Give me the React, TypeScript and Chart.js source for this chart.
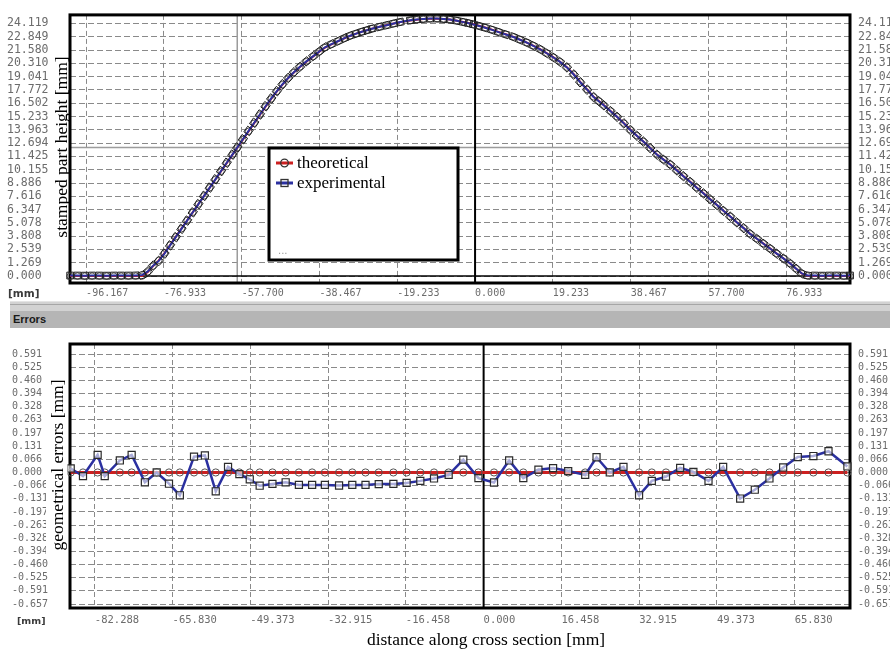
import React, { useEffect, useRef } from 'react';
import { Chart, registerables } from 'chart.js';

Chart.register(...registerables);

// ---------------- upper chart: stamped part profile ----------------
const profileX = [
  -100.1, -98.3, -96.5, -94.7, -92.9, -91.1, -89.3, -87.5, -85.7, -83.9, -82.3,
  -80.9, -79.6, -78.2, -76.8, -75.4, -74.0, -72.6, -71.2, -69.8, -68.4, -67.0, -65.6, -64.2, -62.8, -61.4, -60.0,
  -58.8, -57.4, -56.0, -54.6, -53.2, -51.8, -50.4, -49.0, -47.6, -46.2, -44.8, -43.3, -41.7, -40.0, -38.5, -37.1,
  -35.5, -33.8, -32.3, -30.9, -29.4, -28.0, -26.7, -25.5, -23.6, -21.8, -20.1, -18.5, -16.0, -14.4, -12.8, -11.1,
  -9.4, -7.8, -6.2, -4.5, -2.9, -1.6, -0.4, 1.0, 2.5, 4.2, 5.8, 7.6, 9.5, 11.1, 12.8, 14.4, 16.1, 17.7, 19.4,
  21.0, 22.7, 24.4, 26.0, 27.7, 29.3, 30.6, 31.8, 33.5, 35.1, 36.8, 38.4, 40.0, 41.6, 43.3, 45.0, 46.6, 48.3, 49.9,
  51.5, 53.2, 54.8, 56.5, 58.1, 59.8, 61.4, 63.1, 64.7, 66.4, 68.0, 69.7, 71.3, 73.0, 74.6, 76.3, 77.9, 79.4, 80.8, 82.2,
  84.0, 85.8, 87.6, 89.4, 91.2, 92.7,
];
const profileTheoretical = [
  0, 0, 0, 0, 0, 0, 0, 0, 0, 0, 0,
  0.40, 0.95, 1.50, 2.20, 2.97, 3.75, 4.53, 5.31, 6.09, 6.88, 7.66, 8.44, 9.22, 10.01, 10.79, 11.57,
  12.25, 13.03, 13.82, 14.60, 15.39, 16.17, 16.92, 17.63, 18.29, 18.90, 19.44, 19.97, 20.48, 20.98, 21.43, 21.82,
  22.13, 22.44, 22.71, 22.94, 23.15, 23.34, 23.49, 23.63, 23.81, 23.97, 24.12, 24.25, 24.40, 24.48, 24.54, 24.57,
  24.58, 24.55, 24.49, 24.39, 24.27, 24.16, 24.04, 23.90, 23.73, 23.53, 23.32, 23.09, 22.84, 22.58, 22.30, 22.00, 21.67, 21.30, 20.89,
  20.47, 19.95, 19.27, 18.54, 17.82, 17.12, 16.71, 16.33, 15.76, 15.22, 14.60, 13.97, 13.41, 12.86, 12.24, 11.60, 11.13, 10.65, 10.10,
  9.55, 9.00, 8.45, 7.90, 7.35, 6.79, 6.24, 5.69, 5.14, 4.59, 4.04, 3.57, 3.10, 2.62, 2.15, 1.68, 1.21, 0.71, 0.24, 0.02,
  0, 0, 0, 0, 0, 0,
];
const profileExperimental = [
  0.05, 0.05, 0.04, 0.05, 0.05, 0.04, 0.05, 0.05, 0.05, 0.06, 0.10,
  0.45, 1.00, 1.45, 2.15, 2.93, 3.72, 4.51, 5.30, 6.09, 6.87, 7.66, 8.45, 9.24, 10.03, 10.82, 11.60,
  12.28, 13.07, 13.86, 14.64, 15.43, 16.22, 16.96, 17.66, 18.32, 18.92, 19.46, 19.98, 20.50, 21.00, 21.45, 21.85,
  22.15, 22.45, 22.72, 22.95, 23.15, 23.33, 23.48, 23.62, 23.80, 23.96, 24.12, 24.26, 24.42, 24.50, 24.56, 24.59,
  24.59, 24.55, 24.49, 24.38, 24.25, 24.14, 24.02, 23.88, 23.71, 23.51, 23.30, 23.07, 22.83, 22.57, 22.29, 21.99, 21.66, 21.28, 20.87,
  20.45, 19.93, 19.25, 18.51, 17.80, 17.10, 16.70, 16.31, 15.75, 15.21, 14.58, 13.95, 13.40, 12.85, 12.22, 11.59, 11.12, 10.64, 10.09,
  9.54, 8.99, 8.44, 7.89, 7.34, 6.78, 6.23, 5.68, 5.13, 4.58, 4.03, 3.56, 3.09, 2.61, 2.14, 1.67, 1.20, 0.70, 0.25, 0.06,
  0.05, 0.04, 0.05, 0.05, 0.04, 0.05,
];
const profileXTicks = [-96.167, -76.933, -57.7, -38.467, -19.233, 0, 19.233, 38.467, 57.7, 76.933];
const profileYTicks = [
  0, 1.269, 2.539, 3.808, 5.078, 6.347, 7.616, 8.886, 10.155, 11.425,
  12.694, 13.963, 15.233, 16.502, 17.772, 19.041, 20.31, 21.58, 22.849, 24.119,
];
const profileXRange = [-100.15, 92.7];
const profileYRange = [-0.66, 24.94];
const cursorX = -58.8;
const cursorY = 12.28;

// ---------------- lower chart: geometrical errors ----------------
const errorX = [
  -87.4, -84.8, -81.7, -80.2, -77.0, -74.5, -71.7, -69.2, -66.6, -64.3, -61.3, -59.0, -56.7, -54.1, -51.7,
  -49.5, -47.4, -44.7, -41.9, -39.1, -36.3, -33.6, -30.6, -27.8, -25.0, -22.2, -19.1, -16.3, -13.4, -10.5,
  -7.4, -4.3, -1.1, 2.2, 5.4, 8.4, 11.6, 14.7, 17.9, 21.5, 23.9, 26.7, 29.6, 32.9, 35.6, 38.6, 41.6, 44.4,
  47.6, 50.7, 54.3, 57.4, 60.5, 63.4, 66.5, 69.8, 73.0, 77.0,
];
const errorTheoretical = [
  0, 0, 0, 0, 0, 0, 0, 0, 0, 0, 0, 0, 0, 0, 0,
  0, 0, 0, 0, 0, 0, 0, 0, 0, 0, 0, 0, 0, 0, 0,
  0, 0, 0, 0, 0, 0, 0, 0, 0, 0, 0, 0, 0, 0, 0, 0, 0, 0,
  0, 0, 0, 0, 0, 0, 0, 0, 0, 0,
];
const errorExperimental = [
  0.020, -0.018, 0.088, -0.018, 0.060, 0.088, -0.049, 0.000, -0.056, -0.114, 0.079, 0.085, -0.094, 0.028, -0.008,
  -0.034, -0.066, -0.057, -0.049, -0.062, -0.062, -0.062, -0.065, -0.062, -0.062, -0.058, -0.057, -0.052, -0.042, -0.030,
  -0.012, 0.064, -0.028, -0.050, 0.060, -0.028, 0.014, 0.022, 0.007, -0.012, 0.076, 0.000, 0.028, -0.114, -0.042, -0.021, 0.023, 0.003,
  -0.042, 0.028, -0.130, -0.086, -0.030, 0.025, 0.077, 0.082, 0.106, 0.030,
];
const errorXTicks = [-82.288, -65.83, -49.373, -32.915, -16.458, 0, 16.458, 32.915, 49.373, 65.83];
const errorYTicks = [
  -0.657, -0.591, -0.525, -0.46, -0.394, -0.328, -0.263, -0.197, -0.131, -0.066,
  0, 0.066, 0.131, 0.197, 0.263, 0.328, 0.394, 0.46, 0.525, 0.591,
];
const errorXRange = [-87.55, 77.55];
const errorYRange = [-0.6766, 0.6414];

const seriesNames = ['theoretical', 'experimental'];
const profileYTitle = 'stamped part height [mm]';
const errorYTitle = 'geometrical errors [mm]';
const errorXTitle = 'distance along cross section [mm]';
const unitLabel = '[mm]';
const panelTitle = 'Errors';

// ---------------- styles ----------------
const RED = '#cc2020';
const BLUE = '#2b30a0';
const GRID = '#8a8a8a';
const LABEL = '#6c6c6c';
const MONO = '"DejaVu Sans Mono", monospace';
const SERIF = '"Liberation Serif", "Times New Roman", serif';

function fmt(v: any) {
  return Number(v).toFixed(3);
}

function makeDeco(cfg: any) {
  return {
    id: 'deco',
    beforeDatasetsDraw(chart: any) {
      const { ctx, chartArea: a, scales } = chart;
      const xs = scales.x;
      const ys = scales.y;
      ctx.save();
      ctx.setLineDash([]);
      if (cfg.cursor) {
        ctx.strokeStyle = '#9c9c9c';
        ctx.lineWidth = 1.5;
        const cx = xs.getPixelForValue(cfg.cursor.x);
        const cy = ys.getPixelForValue(cfg.cursor.y);
        ctx.beginPath();
        ctx.moveTo(cx, a.top);
        ctx.lineTo(cx, a.bottom);
        ctx.moveTo(a.left, cy);
        ctx.lineTo(a.right, cy);
        ctx.stroke();
      }
      ctx.strokeStyle = '#000';
      if (cfg.zeroH) {
        const zy = ys.getPixelForValue(0);
        ctx.lineWidth = 1.5;
        ctx.beginPath();
        ctx.moveTo(a.left, zy);
        ctx.lineTo(a.right, zy);
        ctx.stroke();
      }
      const zx = xs.getPixelForValue(0);
      ctx.lineWidth = 2;
      ctx.beginPath();
      ctx.moveTo(zx, a.top);
      ctx.lineTo(zx, a.bottom);
      ctx.stroke();
      ctx.lineWidth = 3;
      ctx.strokeRect(a.left, a.top, a.right - a.left, a.bottom - a.top);
      ctx.restore();
    },
    afterDraw(chart: any) {
      const { ctx } = chart;
      ctx.save();
      ctx.setLineDash([]);
      if (cfg.mask) {
        ctx.fillStyle = '#fff';
        ctx.fillRect(cfg.mask.x, cfg.mask.y, cfg.mask.w, cfg.mask.h);
      }
      // y title
      ctx.save();
      ctx.translate(cfg.yTitle.x, cfg.yTitle.y);
      ctx.rotate(-Math.PI / 2);
      ctx.font = `17.5px ${SERIF}`;
      ctx.fillStyle = '#000';
      ctx.textAlign = 'center';
      ctx.textBaseline = 'middle';
      ctx.fillText(cfg.yTitle.text, 0, 0);
      ctx.restore();
      // x title
      if (cfg.xTitle) {
        ctx.font = `17.5px ${SERIF}`;
        ctx.fillStyle = '#000';
        ctx.textAlign = 'center';
        ctx.textBaseline = 'middle';
        ctx.fillText(cfg.xTitle.text, cfg.xTitle.x, cfg.xTitle.y);
      }
      // unit label
      ctx.font = `bold ${cfg.unit.size}px "DejaVu Sans", sans-serif`;
      ctx.fillStyle = '#3a3a3a';
      ctx.textAlign = 'left';
      ctx.textBaseline = 'middle';
      ctx.fillText(unitLabel, cfg.unit.x, cfg.unit.y);
      // legend
      if (cfg.legend) {
        const L = cfg.legend;
        ctx.fillStyle = '#fff';
        ctx.fillRect(L.x, L.y, L.w, L.h);
        ctx.lineWidth = 3;
        ctx.strokeStyle = '#000';
        ctx.strokeRect(L.x, L.y, L.w, L.h);
        L.items.forEach((it: any, i: number) => {
          const y = L.y + 15 + i * 20;
          ctx.strokeStyle = it.color;
          ctx.lineWidth = 3;
          ctx.beginPath();
          ctx.moveTo(L.x + 7, y);
          ctx.lineTo(L.x + 24, y);
          ctx.stroke();
          ctx.lineWidth = 1.3;
          ctx.strokeStyle = '#333';
          if (it.shape === 'circle') {
            ctx.beginPath();
            ctx.arc(L.x + 15.5, y, 3.8, 0, Math.PI * 2);
            ctx.stroke();
          } else {
            ctx.strokeRect(L.x + 12, y - 3.5, 7, 7);
          }
          ctx.fillStyle = '#000';
          ctx.font = `17px ${SERIF}`;
          ctx.textAlign = 'left';
          ctx.textBaseline = 'middle';
          ctx.fillText(it.label, L.x + 28, y + 1);
        });
        ctx.fillStyle = '#999';
        ctx.font = `10px "DejaVu Sans", sans-serif`;
        ctx.textAlign = 'left';
        ctx.fillText('...', L.x + 9, L.y + L.h - 9);
      }
      ctx.restore();
    },
  };
}

function buildScales(p: any) {
  return {
    x: {
      type: 'linear',
      position: 'bottom',
      min: p.xRange[0],
      max: p.xRange[1],
      afterBuildTicks: (s: any) => {
        s.ticks = p.xTicks.map((v: number) => ({ value: v }));
      },
      afterFit: (s: any) => {
        s.height = p.xHeight;
      },
      grid: { color: GRID, lineWidth: 1, drawTicks: false },
      border: { display: false, dash: [5, 3] },
      ticks: {
        autoSkip: false,
        maxRotation: 0,
        minRotation: 0,
        align: 'start',
        padding: p.xPad,
        color: LABEL,
        font: { family: MONO, size: p.xFont },
        callback: fmt,
      },
    },
    y: {
      type: 'linear',
      position: 'left',
      min: p.yRange[0],
      max: p.yRange[1],
      afterBuildTicks: (s: any) => {
        s.ticks = p.yTicks.map((v: number) => ({ value: v }));
      },
      afterFit: (s: any) => {
        s.width = p.yWidth;
      },
      grid: { color: GRID, lineWidth: 1, drawTicks: false },
      border: { display: false, dash: [6, 3] },
      ticks: {
        autoSkip: false,
        crossAlign: 'far',
        padding: 0,
        color: LABEL,
        font: { family: MONO, size: p.yFont },
        callback: fmt,
      },
    },
    y2: {
      type: 'linear',
      position: 'right',
      min: p.yRange[0],
      max: p.yRange[1],
      afterBuildTicks: (s: any) => {
        s.ticks = p.yTicks.map((v: number) => ({ value: v }));
      },
      afterFit: (s: any) => {
        s.width = 40;
      },
      grid: { display: false, drawTicks: false },
      border: { display: false },
      ticks: {
        autoSkip: false,
        crossAlign: 'near',
        padding: 8,
        color: LABEL,
        font: { family: MONO, size: p.yFont },
        callback: fmt,
      },
    },
  };
}

function tangentRotation(c: any) {
  if (c.type !== 'data' || c.dataIndex == null) return 0;
  const d = c.dataset.data;
  const i = c.dataIndex;
  const xs = c.chart.scales.x;
  const ys = c.chart.scales.y;
  if (!xs || !ys) return 0;
  const p = d[Math.max(0, i - 1)];
  const n = d[Math.min(d.length - 1, i + 1)];
  const dx = xs.getPixelForValue(n.x) - xs.getPixelForValue(p.x);
  const dy = ys.getPixelForValue(n.y) - ys.getPixelForValue(p.y);
  return (Math.atan2(dy, dx) * 180) / Math.PI;
}

export default function App() {
  const topRef = useRef<HTMLCanvasElement | null>(null);
  const botRef = useRef<HTMLCanvasElement | null>(null);

  useEffect(() => {
    const top = new Chart(topRef.current as HTMLCanvasElement, {
      type: 'line',
      data: {
        datasets: [
          {
            label: seriesNames[0],
            data: profileX.map((x, i) => ({ x, y: profileTheoretical[i] })),
            borderColor: RED,
            borderWidth: 2,
            pointStyle: 'circle',
            pointRadius: 3.2,
            pointBorderColor: '#555',
            pointBorderWidth: 1,
            pointBackgroundColor: 'rgba(255,255,255,0)',
            clip: false,
            order: 2,
          },
          {
            label: seriesNames[1],
            data: profileX.map((x, i) => ({ x, y: profileExperimental[i] })),
            borderColor: BLUE,
            borderWidth: 2,
            pointStyle: 'rect',
            pointRadius: 4.8,
            pointRotation: tangentRotation,
            pointBorderColor: '#1c1c1c',
            pointBorderWidth: 1,
            pointBackgroundColor: 'rgba(255,255,255,0)',
            clip: false,
            order: 1,
          },
        ],
      } as any,
      options: {
        animation: false,
        responsive: false,
        maintainAspectRatio: false,
        events: [],
        layout: { padding: { left: 7, top: 12, right: 0, bottom: 0 } },
        plugins: { legend: { display: false }, tooltip: { enabled: false } },
        scales: buildScales({
          xRange: profileXRange,
          yRange: profileYRange,
          xTicks: profileXTicks,
          yTicks: profileYTicks,
          xHeight: 19,
          yWidth: 63,
          xPad: 4,
          xFont: 10,
          yFont: 11.5,
        }),
      } as any,
      plugins: [
        makeDeco({
          cursor: { x: cursorX, y: cursorY },
          zeroH: true,
          yTitle: { text: profileYTitle, x: 62.5, y: 147 },
          unit: { x: 8, y: 294, size: 10.5 },
          legend: {
            x: 269,
            y: 148,
            w: 189,
            h: 112,
            items: [
              { label: seriesNames[0], color: RED, shape: 'circle' },
              { label: seriesNames[1], color: BLUE, shape: 'rect' },
            ],
          },
        }),
      ],
    });

    const bot = new Chart(botRef.current as HTMLCanvasElement, {
      type: 'line',
      data: {
        datasets: [
          {
            label: seriesNames[0],
            data: errorX.map((x, i) => ({ x, y: errorTheoretical[i] })),
            borderColor: RED,
            borderWidth: 3,
            pointStyle: 'circle',
            pointRadius: 3.6,
            pointBorderColor: '#555',
            pointBorderWidth: 1,
            pointBackgroundColor: 'rgba(255,255,255,0)',
            clip: false,
            order: 2,
          },
          {
            label: seriesNames[1],
            data: errorX.map((x, i) => ({ x, y: errorExperimental[i] })),
            borderColor: BLUE,
            borderWidth: 2.5,
            pointStyle: 'rect',
            pointRadius: 5,
            pointBorderColor: '#2a2a2a',
            pointBorderWidth: 1.2,
            pointBackgroundColor: 'rgba(255,255,255,0.6)',
            clip: false,
            order: 1,
          },
        ],
      } as any,
      options: {
        animation: false,
        responsive: false,
        maintainAspectRatio: false,
        events: [],
        layout: { padding: { left: 12, top: 9, right: 0, bottom: 0 } },
        plugins: { legend: { display: false }, tooltip: { enabled: false } },
        scales: buildScales({
          xRange: errorXRange,
          yRange: errorYRange,
          xTicks: errorXTicks,
          yTicks: errorYTicks,
          xHeight: 46,
          yWidth: 58,
          xPad: 6,
          xFont: 10.5,
          yFont: 10,
        }),
      } as any,
      plugins: [
        makeDeco({
          zeroH: false,
          mask: { x: 46, y: 46, w: 21.5, h: 180 },
          yTitle: { text: errorYTitle, x: 58.5, y: 135 },
          xTitle: { text: errorXTitle, x: 486, y: 310 },
          unit: { x: 17, y: 291.5, size: 9.5 },
        }),
      ],
    });

    return () => {
      top.destroy();
      bot.destroy();
    };
  }, []);

  return (
    <div style={{ position: 'absolute', left: 0, top: 0, width: 890, height: 654, background: '#fff', overflow: 'hidden' }}>
      <canvas ref={topRef} width={890} height={302} style={{ position: 'absolute', left: 0, top: 0, width: 890, height: 302 }} />
      <canvas ref={botRef} width={890} height={324} style={{ position: 'absolute', left: 0, top: 330, width: 890, height: 324 }} />
      <div style={{ position: 'absolute', left: 10, top: 301, width: 880, height: 10, background: '#d2d2d2', borderTop: '1px solid #e4e4e4', boxSizing: 'border-box' }} />
      <div style={{ position: 'absolute', left: 10, top: 304, width: 880, height: 1, background: '#a6a6a6' }} />
      <div
        style={{
          position: 'absolute',
          left: 10,
          top: 311,
          width: 880,
          height: 17,
          background: '#b5b5b5',
          font: 'bold 11px "Liberation Sans", Arial, sans-serif',
          color: '#1a1a1a',
          lineHeight: '17px',
          paddingLeft: 3,
          boxSizing: 'border-box',
        }}
      >
        {panelTitle}
      </div>
    </div>
  );
}
